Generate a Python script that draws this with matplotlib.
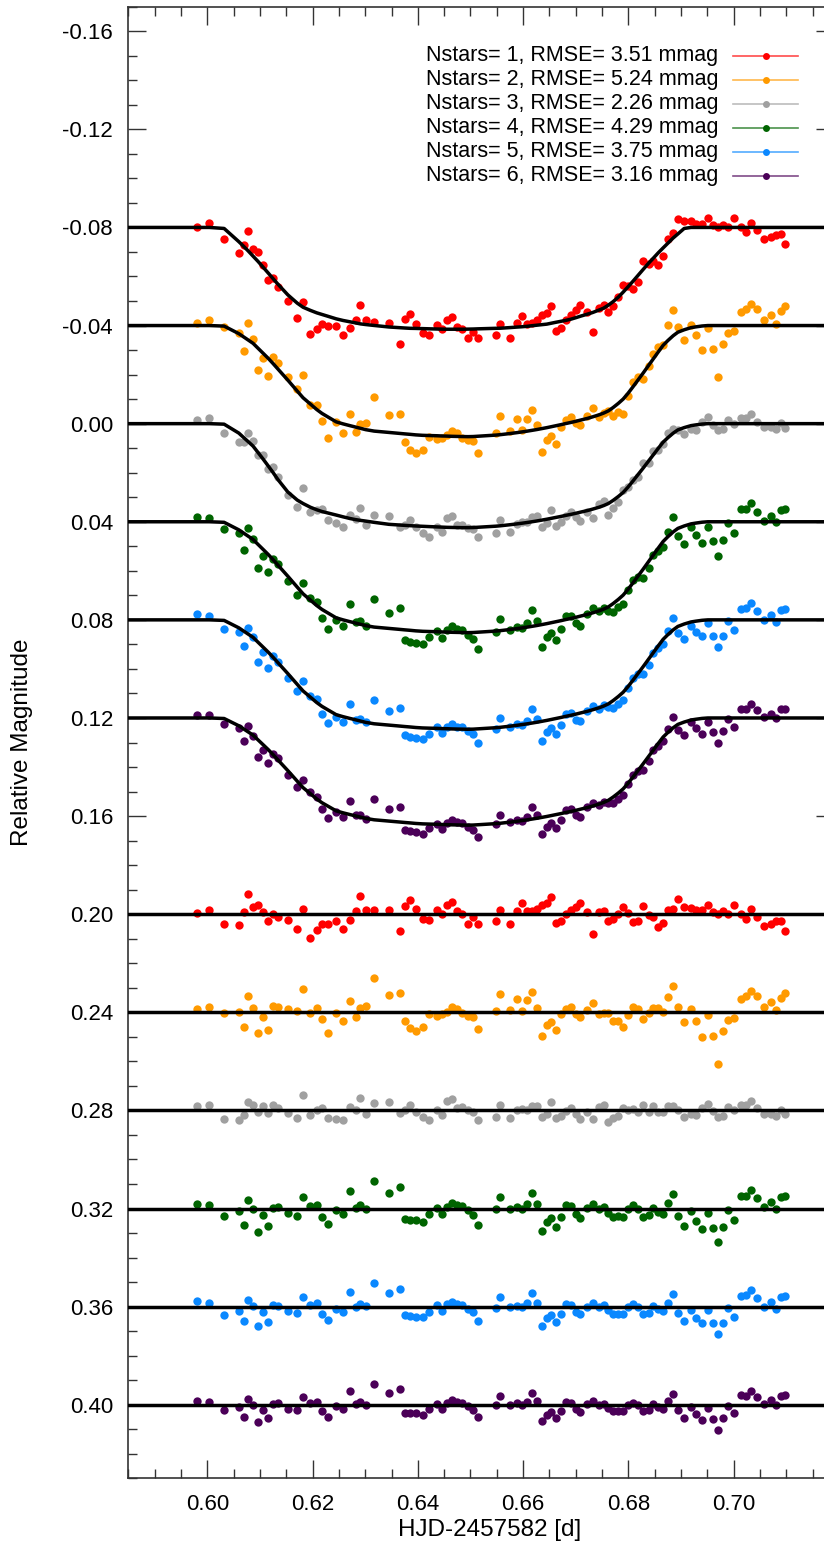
import matplotlib.pyplot as plt
from matplotlib.ticker import MultipleLocator, FixedLocator, FormatStrFormatter
from matplotlib.lines import Line2D

plt.rcParams['font.family'] = ['Liberation Sans', 'DejaVu Sans']
plt.rcParams['axes.unicode_minus'] = False

# observation times, HJD - 2457582
hjd = [0.5980, 0.6004, 0.6032, 0.6060, 0.6069, 0.6078, 0.6087, 0.6097, 0.6106, 0.6116,
       0.6125, 0.6134, 0.6153, 0.6171, 0.6182, 0.6196, 0.6208, 0.6218, 0.6230, 0.6245,
       0.6258, 0.6271, 0.6282, 0.6291, 0.6301, 0.6317, 0.6345, 0.6366, 0.6375, 0.6385,
       0.6396, 0.6409, 0.6422, 0.6437, 0.6446, 0.6455, 0.6465, 0.6474, 0.6484, 0.6495,
       0.6505, 0.6515, 0.6548, 0.6557, 0.6575, 0.6588, 0.6597, 0.6607, 0.6616, 0.6626,
       0.6635, 0.6645, 0.6653, 0.6662, 0.6672, 0.6681, 0.6691, 0.6700, 0.6709, 0.6722,
       0.6732, 0.6744, 0.6753, 0.6762, 0.6771, 0.6781, 0.6790, 0.6799, 0.6808, 0.6818,
       0.6828, 0.6839, 0.6847, 0.6857, 0.6866, 0.6875, 0.6885, 0.6894, 0.6906, 0.6919,
       0.6928, 0.6940, 0.6951, 0.6961, 0.6971, 0.6980, 0.6990, 0.7001, 0.7014, 0.7023,
       0.7033, 0.7044, 0.7058, 0.7070, 0.7080, 0.7089, 0.7098]

# normalised transit profiles of the fitted models (0 = out of transit, 1 = full depth)
shape_a = [0, 0, 0.01, 0.14, 0.185, 0.232, 0.282, 0.337, 0.390, 0.449,
           0.503, 0.556, 0.662, 0.744, 0.784, 0.815, 0.839, 0.855, 0.874, 0.898,
           0.914, 0.927, 0.938, 0.9475, 0.954, 0.963, 0.978, 0.985, 0.988, 0.991,
           0.992, 0.994, 0.996, 0.998, 0.999, 1, 1, 1, 1, 0.999,
           0.998, 0.996, 0.991, 0.99, 0.984, 0.979, 0.976, 0.9715, 0.966, 0.9605,
           0.9555, 0.95, 0.9415, 0.932, 0.922, 0.913, 0.901, 0.887, 0.872, 0.852,
           0.836, 0.812, 0.793, 0.763, 0.729, 0.684, 0.636, 0.585, 0.533, 0.473,
           0.413, 0.348, 0.304, 0.248, 0.201, 0.155, 0.104, 0.064, 0.01, 0,
           0, 0, 0, 0, 0, 0, 0, 0, 0, 0,
           0, 0, 0, 0, 0, 0, 0]
shape_c = [0, 0, 0.005, 0.073, 0.102, 0.131, 0.16, 0.207, 0.249, 0.296,
           0.342, 0.390, 0.491, 0.590, 0.65, 0.707, 0.756, 0.791, 0.825, 0.867,
           0.885, 0.901, 0.914, 0.925, 0.937, 0.950, 0.962, 0.971, 0.975, 0.979,
           0.984, 0.988, 0.990, 0.992, 0.994, 0.995, 0.997, 0.998, 0.999, 1.0,
           0.999, 0.996, 0.986, 0.982, 0.972, 0.964, 0.958, 0.951, 0.944, 0.936,
           0.928, 0.919, 0.911, 0.902, 0.892, 0.882, 0.872, 0.862, 0.851, 0.836,
           0.822, 0.804, 0.788, 0.768, 0.738, 0.700, 0.662, 0.612, 0.556, 0.492,
           0.428, 0.355, 0.302, 0.236, 0.178, 0.135, 0.092, 0.060, 0.038, 0.019,
           0.012, 0.004, 0, 0, 0, 0, 0, 0, 0, 0,
           0, 0, 0, 0, 0, 0, 0]
shape_g = [0, 0, 0.005, 0.091, 0.133, 0.174, 0.216, 0.281, 0.34, 0.408,
           0.47, 0.536, 0.657, 0.735, 0.768, 0.804, 0.828, 0.845, 0.86, 0.879,
           0.896, 0.912, 0.923, 0.93, 0.937, 0.949, 0.968, 0.975, 0.978, 0.981,
           0.984, 0.987, 0.99, 0.993, 0.995, 0.997, 0.998, 0.999, 1.0, 1.0,
           0.999, 0.996, 0.986, 0.982, 0.972, 0.964, 0.958, 0.951, 0.944, 0.936,
           0.928, 0.919, 0.911, 0.902, 0.892, 0.882, 0.872, 0.862, 0.851, 0.836,
           0.822, 0.804, 0.788, 0.768, 0.738, 0.700, 0.662, 0.612, 0.556, 0.492,
           0.428, 0.355, 0.302, 0.236, 0.178, 0.135, 0.092, 0.060, 0.038, 0.019,
           0.012, 0.004, 0, 0, 0, 0, 0, 0, 0, 0,
           0, 0, 0, 0, 0, 0, 0]

# fit residuals in mmag, one list per comparison-star ensemble
resid_1 = [-0.3, -1.9, 4.1, 4.5, -0.7, -8.2, -3.0, -3.8, -0.7, 2.6,
           -0.1, 1.2, 2.4, 6.1, -2.2, 9.7, 6.5, 3.8, 3.9, 2.9,
           6.1, 2.4, -1.2, -7.5, -1.9, -1.6, -1.6, 6.7, -3.5, -5.7,
           -2.0, 1.8, 2.4, -1.6, 0.0, -3.8, -4.9, -1.1, -0.1, 3.8,
           1.1, 3.8, 2.9, -1.9, 4.2, -1.5, -4.4, -1.1, -1.1, -2.2,
           -3.8, -4.4, -7.1, 3.4, 2.9, -0.1, -1.6, -3.0, -4.4, -0.7,
           8.0, -1.0, -1.1, 2.7, 1.8, -0.1, -3.0, -0.5, 3.1, 2.7,
           -3.3, 0.4, 1.1, 5.2, 3.4, -1.6, -2.2, -6.0, -3.0, -2.7,
           -1.6, -1.6, -3.8, -1.0, 0.0, -1.1, 0.0, -3.8, 0.0, 2.0,
           -2.0, 1.1, 4.8, 3.8, 2.9, 2.7, 6.8]
resid_2 = [-1.2, -2.3, 0.4, -0.1, 5.9, -6.8, -1.8, 8.6, 1.9, 7.2,
           -2.6, -2.3, -1.2, -0.7, -9.4, 0.4, -1.9, 2.9, 8.6, 0.1,
           3.7, -4.6, 1.8, -1.9, -2.6, -13.9, -7.2, -8.0, 3.5, 6.3,
           7.5, 5.9, 0.7, 1.4, 0.8, -0.3, -2.0, -1.5, 0.4, 1.4,
           1.8, 6.9, -0.7, -7.6, -1.1, -5.4, -0.7, -5.0, -8.4, -1.8,
           9.5, 5.2, 3.9, 7.3, 0.8, -1.5, -2.2, 0.8, 1.9, -0.8,
           -3.7, 0.8, 0.1, 0.1, 3.5, 3.5, 6.0, 1.1, -2.2, -1.2,
           2.6, 0.3, -1.9, -1.9, 0.0, -6.4, -10.6, -2.3, 4.1, -1.2,
           3.4, 9.9, 1.2, 9.5, 21.0, 7.6, 3.1, 2.4, -5.6, -6.7,
           -8.8, -6.7, -2.3, -4.4, -0.8, -5.9, -8.0]
resid_3 = [-1.6, -2.4, 3.7, 3.8, 2.0, -3.4, -2.0, 0.7, -1.8, 1.1,
           -2.4, -0.8, 1.2, 3.0, -6.3, 2.0, 0.0, -1.0, 3.0, 3.4,
           4.1, -1.4, -0.1, -5.0, 1.5, -3.1, -3.4, 1.0, -0.3, -2.4,
           0.5, 2.6, 4.1, -0.1, 1.8, -3.7, -4.6, -1.1, -1.2, 0.0,
           0.5, 3.8, 2.7, -2.3, 3.0, 0.0, -0.5, -0.3, -1.8, -1.9,
           2.6, 1.5, -3.3, 3.3, 2.4, 0.3, -1.0, 1.5, 3.5, 0.7,
           3.5, -1.2, -2.0, 4.6, 3.0, 2.3, -1.1, 0.0, -0.7, 0.7,
           -2.2, 0.8, -1.6, 0.7, 0.7, -1.8, -1.6, 0.0, 2.7, 1.4,
           2.0, -1.0, -2.7, 0.4, 2.6, 2.2, -1.4, 0.0, -2.2, -2.3,
           -3.9, -0.8, 1.5, 1.4, 2.2, -0.3, 1.6]
resid_4 = [-1.8, -1.4, 2.9, 1.1, 6.7, -3.4, 0.0, 9.5, 2.7, 7.1,
           -0.3, -0.5, 2.0, 3.1, -4.5, -1.0, -1.4, 3.5, 6.4, 0.7,
           2.4, -7.1, -0.3, -1.5, 0.1, -11.3, -6.4, -8.6, 4.1, 4.6,
           4.8, 5.3, 2.4, -0.3, 2.3, -0.8, -2.4, -1.5, -1.0, 0.8,
           2.6, 6.7, 0.3, -4.6, 0.0, -0.7, 0.0, -1.7, -6.5, -1.8,
           9.1, 5.4, 4.0, 7.4, 3.3, -1.3, -1.1, 2.4, 3.9, -0.2,
           -2.0, 0.1, -0.5, 1.7, 3.6, 3.2, 3.5, 0.1, -1.3, 0.1,
           3.6, 2.8, -0.3, 1.4, 2.1, -2.1, -5.9, 3.2, 7.3, 1.2,
           4.9, 8.3, 2.0, 8.0, 13.8, 7.4, 0.6, 4.7, -5.1, -5.1,
           -7.5, -4.1, -0.5, -2.5, 0.0, -4.8, -5.1]
resid_5 = [-2.2, -1.6, 3.3, 1.6, 6.0, -2.6, -0.3, 8.0, 2.0, 6.3,
           -0.5, -0.2, 1.6, 2.8, -4.0, -0.6, -1.5, 3.0, 5.4, 0.9,
           2.0, -6.0, 0.1, -1.0, -0.2, -9.6, -5.6, -7.3, 3.5, 3.9,
           4.2, 4.4, 2.2, -0.5, 1.8, -0.9, -2.0, -1.0, -0.7, 0.9,
           2.1, 5.9, 0.5, -3.8, 0.3, -0.4, 0.2, -1.3, -5.6, -1.4,
           7.9, 4.6, 3.6, 6.3, 3.0, -1.0, -0.8, 2.2, 3.2, 0.0,
           -1.6, 0.3, -0.6, 1.4, 3.0, 2.9, 3.1, 0.3, -1.0, 0.2,
           3.0, 2.5, -0.1, 1.1, 1.9, -1.6, -5.0, 2.8, 6.0, 1.5,
           4.6, 6.5, 1.4, 6.5, 11.2, 6.5, 0.4, 4.2, -4.4, -4.8,
           -6.7, -3.5, 0.1, -2.0, 0.8, -4.0, -4.3]
resid_6 = [-1.4, -1.2, 2.3, 1.0, 5.0, -2.4, 0.2, 7.0, 2.2, 5.4,
           -0.1, -0.6, 1.6, 2.2, -3.3, -0.7, -1.0, 2.5, 4.9, 0.4,
           1.9, -5.4, -0.3, -1.0, 0.2, -8.3, -4.8, -6.3, 3.2, 3.4,
           3.4, 4.1, 1.6, -0.1, 1.9, -0.6, -1.9, -1.0, -0.9, 0.6,
           2.0, 5.0, 0.3, -3.5, 0.1, -0.6, 0.1, -1.2, -4.8, -1.4,
           6.7, 4.1, 2.9, 5.5, 2.5, -1.0, -0.9, 1.7, 3.0, -0.1,
           -1.4, 0.2, -0.3, 1.3, 2.6, 2.4, 2.6, 0.1, -0.9, 0.0,
           2.7, 2.0, -0.3, 1.0, 1.6, -1.5, -4.4, 2.3, 5.4, 0.9,
           3.6, 6.2, 1.5, 5.9, 10.2, 5.4, 0.4, 3.5, -3.8, -3.7,
           -5.6, -3.1, -0.4, -1.8, 0.1, -3.6, -3.8]

labels = ['Nstars= 1, RMSE= 3.51 mmag', 'Nstars= 2, RMSE= 5.24 mmag',
          'Nstars= 3, RMSE= 2.26 mmag', 'Nstars= 4, RMSE= 4.29 mmag',
          'Nstars= 5, RMSE= 3.75 mmag', 'Nstars= 6, RMSE= 3.16 mmag']
colors = ['#ff0000', '#ff9a00', '#a0a0a0', '#006400', '#0a88ff', '#4b0058']
offsets = [-0.08, -0.04, 0.00, 0.04, 0.08, 0.12]
resid_offsets = [0.20, 0.24, 0.28, 0.32, 0.36, 0.40]
depths = [41.5, 45.3, 42.4, 45.2, 44.6, 43.7]  # transit depth, mmag
shapes = [shape_a, shape_c, shape_g, shape_c, shape_c, shape_c]
resids = [resid_1, resid_2, resid_3, resid_4, resid_5, resid_6]

W, H = 824, 1555
fig = plt.figure(figsize=(W / 100, H / 100), dpi=100)
x0, x1 = 0.585, 0.719
ax = fig.add_axes([128.3 / W, 76.7 / H, (x1 - x0) * 5264 / W, 1471.6 / H])

for i in range(6):
    model = [offsets[i] + depths[i] * s / 1000 for s in shapes[i]]
    ax.plot([x0] + hjd + [x1], [offsets[i]] + model + [offsets[i]],
            color='black', lw=2.5, zorder=3)
    ax.axhline(resid_offsets[i], color='black', lw=2.5, zorder=3)
    mags = [m + r / 1000 for m, r in zip(model, resids[i])]
    ax.plot(hjd, mags, 'o', ms=6, mec='none', color=colors[i], zorder=2)
    ax.plot(hjd, [resid_offsets[i] + r / 1000 for r in resids[i]], 'o',
            ms=6, mec='none', color=colors[i], zorder=2)

ax.set_xlim(x0, x1)
ax.set_ylim(0.43, -0.17)
ax.xaxis.set_major_locator(FixedLocator([0.60, 0.62, 0.64, 0.66, 0.68, 0.70]))
ax.xaxis.set_minor_locator(MultipleLocator(0.005))
ax.yaxis.set_major_locator(MultipleLocator(0.04))
ax.yaxis.set_minor_locator(MultipleLocator(0.01))
ax.xaxis.set_major_formatter(FormatStrFormatter('%.2f'))
ax.yaxis.set_major_formatter(FormatStrFormatter('%.2f'))
ax.tick_params(which='both', direction='in', top=True, right=True,
               color='#333333', width=1.0, labelsize=16, labelcolor='black')
ax.tick_params(which='major', length=13, pad=11)
ax.tick_params(which='minor', length=6.5)
for sp in ax.spines.values():
    sp.set_color('#333333')
    sp.set_linewidth(1.2)

fig.text(22 / W, 1 - 742 / H, 'Relative Magnitude', rotation=90,
         ha='center', va='center', fontsize=17.5)
fig.text(490 / W, 1 - 1530 / H, 'HJD-2457582 [d]',
         ha='center', va='center', fontsize=17.5)

# key in the upper right corner
rows = [55.7, 80, 104, 128, 151.7, 175.7]
for lab, col, yy in zip(labels, colors, rows):
    yf = 1 - yy / H
    fig.text(718 / W, yf, lab, ha='right', va='center', fontsize=15.5)
    fig.add_artist(Line2D([733 / W, 798 / W], [yf, yf], color=col, lw=1.2,
                          alpha=0.7, transform=fig.transFigure))
    fig.add_artist(Line2D([765.7 / W], [yf], marker='o', ms=5, mec='none',
                          color=col, transform=fig.transFigure))

fig.savefig('out.png', dpi=100)
